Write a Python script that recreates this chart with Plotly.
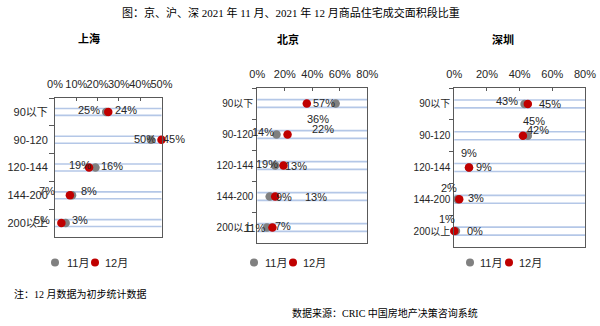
import plotly.graph_objects as go

# ---------------- data ----------------
categories = ["90以下", "90-120", "120-144", "144-200", "200以上"]
series_names = ["11月", "12月"]

sh_nov = [24, 45, 19, 8, 5]
sh_dec = [25, 50, 16, 7, 3]
bj_nov = [57, 14, 13, 9, 7]
bj_dec = [36, 22, 19, 13, 11]
sz_nov = [43, 45, 9, 2, 1]
sz_dec = [45, 42, 9, 3, 0]

# data-label texts as printed in the picture
sh_nov_lbl = ["25%", "50%", "19%", "7%", "5%"]
sh_dec_lbl = ["24%", "45%", "16%", "8%", "3%"]
bj_nov_lbl = ["57%", "14%", "19%", "9%", "11%"]
bj_dec_lbl = ["36%", "22%", "13%", "13%", "7%"]
sz_nov_lbl = ["43%", "45%", "9%", "2%", "1%"]
sz_dec_lbl = ["45%", "42%", "9%", "3%", "0%"]

panel_titles = ["上海", "北京", "深圳"]
title_text = "图：京、沪、深 2021 年 11 月、2021 年 12 月商品住宅成交面积段比重"
note_text = "注：12 月数据为初步统计数据"
source_text = "数据来源：CRIC 中国房地产决策咨询系统"

# ---------------- styling / placement (kept apart from data) ----------------
W, H = 600, 326
GRAY = "#808080"
RED = "#c00000"
GRID_BLUE = "#b4c7e7"
AXIS_COL = "#595959"
TXT = "#262626"
SANS = "Liberation Sans, Arial, Noto Sans CJK SC, sans-serif"
SERIF = "Liberation Serif, Times New Roman, Noto Sans CJK SC, serif"

def px(x):
    return x / W

def py(y):
    return 1 - y / H

# label offsets in pixels (dx right, dy down) relative to their dot
sh_nov_off = [(-17, -2), (-6, -1), (-15, -3), (-25, -4), (-24, -3)]
sh_dec_off = [(18, -2), (12, -1), (23, -2), (19, -4), (19, -3)]
bj_nov_off = [(-12, -1), (-14, -3), (-8, -2), (14, 0), (-12, 0)]
bj_dec_off = [(11, 15), (35, -6), (13, 0), (41, 0), (11, -2)]
sz_nov_off = [(-18, -3), (6, -15), (0, -15), (-9, -11), (-9, -12)]
sz_dec_off = [(22, 0), (15, -6), (15, -1), (17, -1), (21, 0)]

panels = [
    dict(nov=sh_nov, dec=sh_dec, nl=sh_nov_lbl, dl=sh_dec_lbl, no=sh_nov_off, do=sh_dec_off,
         xmax=50, dtick=10, xd=(55, 161.5), yd=(98, 237), ytf=11, ticklen=5, ystand=4,
         title_xy=(89, 39), leg=(55, 65, 95, 103)),
    dict(nov=bj_nov, dec=bj_dec, nl=bj_nov_lbl, dl=bj_dec_lbl, no=bj_nov_off, do=bj_dec_off,
         xmax=80, dtick=20, xd=(257.3, 367.3), yd=(88, 243), ytf=10, ticklen=4, ystand=1,
         title_xy=(287.5, 40), leg=(254, 263, 293, 301)),
    dict(nov=sz_nov, dec=sz_dec, nl=sz_nov_lbl, dl=sz_dec_lbl, no=sz_nov_off, do=sz_dec_off,
         xmax=80, dtick=20, xd=(454.3, 585), yd=(88, 247), ytf=10, ticklen=4, ystand=1,
         title_xy=(503.5, 40), leg=(470, 478, 509, 517)),
]

fig = go.Figure()
annotations = []
shapes = []
LEG_Y = 262.5

for i, p in enumerate(panels):
    k = "" if i == 0 else str(i + 1)
    xa, ya = "x" + k, "y" + k
    for vals, col, name in ((p["nov"], GRAY, series_names[0]), (p["dec"], RED, series_names[1])):
        fig.add_trace(go.Scatter(
            x=vals, y=categories, mode="markers", name=name, xaxis=xa, yaxis=ya,
            marker=dict(color=col, size=8.5, line=dict(width=0)),
            cliponaxis=False, showlegend=False, hoverinfo="x+y+name",
        ))
    # data labels
    for vals, lbls, offs in ((p["nov"], p["nl"], p["no"]), (p["dec"], p["dl"], p["do"])):
        for v, c, t, (dx, dy) in zip(vals, categories, lbls, offs):
            annotations.append(dict(
                x=v, y=c, xref=xa, yref=ya, text=t, showarrow=False,
                xshift=dx, yshift=-dy, xanchor="center", yanchor="middle",
                font=dict(family=SANS, size=11, color=TXT),
            ))
    # thin blue guide lines around each category
    for j in range(len(categories)):
        for off in (-0.125, 0.125):
            shapes.append(dict(
                type="line", xref=xa + " domain", yref=ya, x0=0, x1=1,
                y0=j + off, y1=j + off, layer="below",
                line=dict(color=GRID_BLUE, width=1.6),
            ))
    # axes
    fig.update_layout(**{
        "xaxis" + k: dict(
            domain=[px(p["xd"][0]), px(p["xd"][1])], range=[0, p["xmax"]],
            dtick=p["dtick"], tick0=0, ticksuffix="%", side="top", anchor=ya,
            ticks="inside", ticklen=3, tickcolor=AXIS_COL, tickangle=0,
            showline=True, linecolor=AXIS_COL, linewidth=1, mirror=True,
            showgrid=False, zeroline=False, automargin=False,
            tickfont=dict(family=SANS, size=11, color=TXT), ticklabelstandoff=5,
            fixedrange=True,
        ),
        "yaxis" + k: dict(
            domain=[py(p["yd"][1]), py(p["yd"][0])], type="category",
            categoryorder="array", categoryarray=categories,
            range=[len(categories) - 0.5, -0.5], anchor=xa,
            ticks="outside", tickson="boundaries", ticklen=p["ticklen"], tickcolor=AXIS_COL,
            showline=True, linecolor=AXIS_COL, linewidth=1, mirror=True,
            showgrid=False, zeroline=False, automargin=False,
            tickfont=dict(family=SANS, size=p["ytf"], color=TXT),
            ticklabelstandoff=p["ystand"], fixedrange=True,
        ),
    })
    # panel title
    tx, ty = p["title_xy"]
    annotations.append(dict(
        x=px(tx), y=py(ty), xref="paper", yref="paper", text="<b>" + panel_titles[i] + "</b>",
        showarrow=False, xanchor="center", yanchor="middle",
        font=dict(family=SANS, size=11, color="#000000"),
    ))
    # legend (symbol + text)
    gdx, gtx, rdx, rtx = p["leg"]
    for cx, col in ((gdx, GRAY), (rdx, RED)):
        shapes.append(dict(
            type="circle", xref="paper", yref="paper", xsizemode="pixel", ysizemode="pixel",
            xanchor=px(cx), yanchor=py(LEG_Y), x0=-4, x1=4, y0=-4, y1=4,
            fillcolor=col, line=dict(width=0),
        ))
    for tx0, name in ((gtx, series_names[0]), (rtx, series_names[1])):
        annotations.append(dict(
            x=px(tx0), y=py(LEG_Y), xref="paper", yref="paper", text=name,
            showarrow=False, xanchor="left", yanchor="middle",
            font=dict(family=SANS, size=11, color=TXT),
        ))

# main title and notes
annotations.append(dict(
    x=px(291), y=py(12), xref="paper", yref="paper", text=title_text, showarrow=False,
    xanchor="center", yanchor="middle", font=dict(family=SERIF, size=11, color="#000000"),
))
annotations.append(dict(
    x=px(12), y=py(294), xref="paper", yref="paper", text=note_text, showarrow=False,
    xanchor="left", yanchor="middle", font=dict(family=SERIF, size=10, color="#000000"),
))
annotations.append(dict(
    x=px(290), y=py(312.5), xref="paper", yref="paper", text=source_text, showarrow=False,
    xanchor="left", yanchor="middle", font=dict(family=SERIF, size=10, color="#000000"),
))

fig.update_layout(
    template="none",
    width=W, height=H, autosize=False,
    margin=dict(l=0, r=0, t=0, b=0, pad=0),
    paper_bgcolor="white", plot_bgcolor="white",
    showlegend=False,
    annotations=annotations, shapes=shapes,
)

fig.write_html("out.html", config={"displayModeBar": False})
